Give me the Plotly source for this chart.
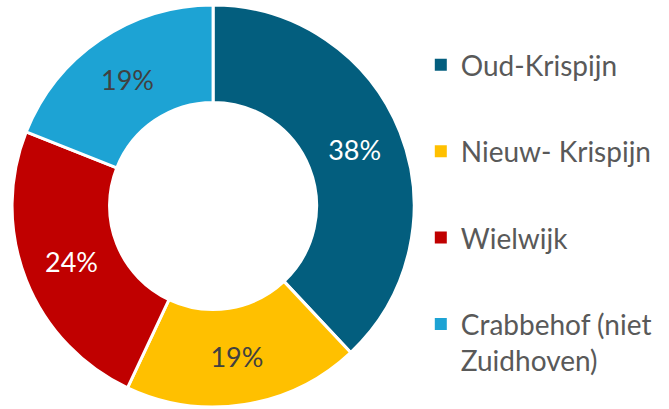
import plotly.graph_objects as go

categories = ["Oud-Krispijn", "Nieuw- Krispijn", "Wielwijk", "Crabbehof (niet<br>Zuidhoven)"]
values = [38, 19, 24, 19]
colors = ["#035E7E", "#FFC000", "#C00000", "#1DA3D4"]
text_colors = ["#FFFFFF", "#404040", "#FFFFFF", "#404040"]

FONT = "Lato, Carlito, Calibri, sans-serif"

fig = go.Figure()
fig.add_trace(go.Pie(
    labels=categories,
    values=values,
    sort=False,
    direction="clockwise",
    rotation=0,
    hole=0.515,
    marker=dict(colors=colors, line=dict(color="#FFFFFF", width=3)),
    texttemplate="%{percent:.0%}",
    textposition="inside",
    insidetextorientation="horizontal",
    insidetextfont=dict(family=FONT, size=27, color=text_colors),
    domain=dict(x=[0.018, 0.619], y=[0.005, 0.988]),
    showlegend=False,
))

for i, (name, col) in enumerate(zip(categories, colors)):
    fig.add_trace(go.Scatter(
        x=[None], y=[None], mode="markers", name=name,
        marker=dict(symbol="square", size=12, color=col),
        legendgroup=f"g{i}", showlegend=True,
    ))

fig.update_layout(
    width=669, height=409,
    margin=dict(l=0, r=0, t=0, b=0, autoexpand=False),
    paper_bgcolor="#FFFFFF", plot_bgcolor="#FFFFFF",
    xaxis=dict(visible=False), yaxis=dict(visible=False),
    legend=dict(
        x=0.629, xanchor="left", y=0.902, yanchor="top",
        font=dict(family=FONT, size=28, color="#595959"),
        tracegroupgap=47, valign="top",
        bgcolor="rgba(0,0,0,0)",
    ),
    font=dict(family=FONT),
)

fig.write_html(
    "out.html",
    config={"displayModeBar": False},
    post_script="document.body.style.margin='0';document.body.style.overflow='hidden';",
)
